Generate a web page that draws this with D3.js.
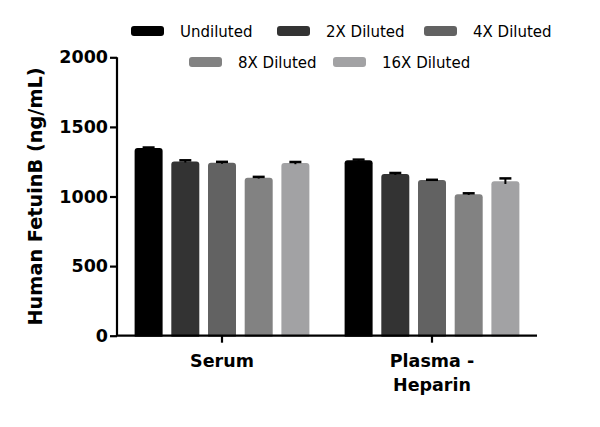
<!DOCTYPE html>
<html>
<head>
<meta charset="utf-8">
<script src="https://cdn.jsdelivr.net/npm/d3@7"></script>
<style>
  html, body { margin: 0; padding: 0; background: #fff; }
  svg { display: block; }
</style>
</head>
<body>
<svg id="chart" width="600" height="427"></svg>
<script>
const categories = ["Serum", "Plasma - Heparin"];
const categoryLines = [["Serum"], ["Plasma -", "Heparin"]];
const series = ["Undiluted", "2X Diluted", "4X Diluted", "8X Diluted", "16X Diluted"];
const colors = ["#000000", "#333333", "#626262", "#828282", "#a2a2a4"];
const serumValues = [1348, 1252, 1242, 1135, 1240];
const plasmaValues = [1260, 1162, 1118, 1017, 1110];
const serumErrors = [4, 8, 7, 6, 8];
const plasmaErrors = [5, 7, 2, 6, 20];
const yTicks = [0, 500, 1000, 1500, 2000];
const yTitle = "Human FetuinB (ng/mL)";

const values = [serumValues, plasmaValues];
const errors = [serumErrors, plasmaErrors];

const svg = d3.select("#chart");
const font = "'DejaVu Sans', sans-serif";

const x0 = d3.scaleBand().domain(categories).range([117, 537]).paddingInner(0).paddingOuter(0);
const x1 = d3.scaleBand().domain(series).range([0, x0.bandwidth()]).paddingInner(0.237).paddingOuter(0.48);
const y = d3.scaleLinear().domain([0, 2000]).range([335.7, 57.3]);

// bars
categories.forEach((cat, ci) => {
  const g = svg.append("g").attr("transform", `translate(${x0(cat)},0)`);
  series.forEach((s, si) => {
    const v = values[ci][si];
    g.append("rect")
      .attr("x", x1(s))
      .attr("y", y(v))
      .attr("width", x1.bandwidth())
      .attr("height", y(0) - y(v) + 3)
      .attr("rx", 3)
      .attr("fill", colors[si]);
    const e = errors[ci][si];
    const cx = x1(s) + x1.bandwidth() / 2;
    g.append("line")
      .attr("x1", cx).attr("x2", cx)
      .attr("y1", y(v - e)).attr("y2", y(v + e))
      .attr("stroke", "#000").attr("stroke-width", 2);
    g.append("line")
      .attr("x1", cx - 6).attr("x2", cx + 6)
      .attr("y1", y(v + e)).attr("y2", y(v + e))
      .attr("stroke", "#000").attr("stroke-width", 2.5);
  });
});

// clip bar bottoms with white under axis
svg.append("rect").attr("x", 110).attr("y", y(0) + 1).attr("width", 440).attr("height", 6).attr("fill", "#fff");

// y axis
const yAxis = d3.axisLeft(y).tickValues(yTicks).tickSize(7).tickPadding(2).tickFormat(d3.format("d"));
const yg = svg.append("g").attr("transform", "translate(117,0)").call(yAxis);
yg.select(".domain").attr("stroke", "#000").attr("stroke-width", 2.2).attr("d", `M0,${y(2000)}V${y(0)}`);
yg.selectAll(".tick line").attr("stroke", "#000").attr("stroke-width", 2.2);
yg.selectAll(".tick text").attr("font-family", font).attr("font-weight", "bold").attr("font-size", 17.5).attr("fill", "#000");

// x axis
const xAxis = d3.axisBottom(x0).tickSize(7).tickFormat("");
const xg = svg.append("g").attr("transform", `translate(0,${y(0)})`).call(xAxis);
xg.select(".domain").attr("stroke", "#000").attr("stroke-width", 2.2).attr("d", "M116,0H537");
xg.selectAll(".tick line").attr("stroke", "#000").attr("stroke-width", 2.2);

categories.forEach((cat, ci) => {
  const t = svg.append("text")
    .attr("x", x0(cat) + x0.bandwidth() / 2)
    .attr("y", 367)
    .attr("text-anchor", "middle")
    .attr("font-family", font).attr("font-weight", "bold").attr("font-size", 17.5).attr("fill", "#000");
  categoryLines[ci].forEach((ln, li) => {
    t.append("tspan").attr("x", x0(cat) + x0.bandwidth() / 2).attr("dy", li === 0 ? 0 : 24).text(ln);
  });
});

// y title
svg.append("text")
  .attr("transform", `translate(41.5,196.5) rotate(-90)`)
  .attr("text-anchor", "middle")
  .attr("font-family", font).attr("font-weight", "bold").attr("font-size", 19.3).attr("fill", "#000")
  .text(yTitle);

// legend
const legendPos = [
  { sx: 131, y: 31 }, { sx: 277, y: 31 }, { sx: 424, y: 31 },
  { sx: 189, y: 62 }, { sx: 333, y: 62 }
];
series.forEach((s, si) => {
  const p = legendPos[si];
  svg.append("rect").attr("x", p.sx).attr("y", p.y - 5).attr("width", 33).attr("height", 10).attr("rx", 3).attr("fill", colors[si]);
  svg.append("text").attr("x", p.sx + 49).attr("y", p.y + 5.5)
    .attr("font-family", font).attr("font-size", 15).attr("fill", "#000").text(s);
});
</script>
</body>
</html>
